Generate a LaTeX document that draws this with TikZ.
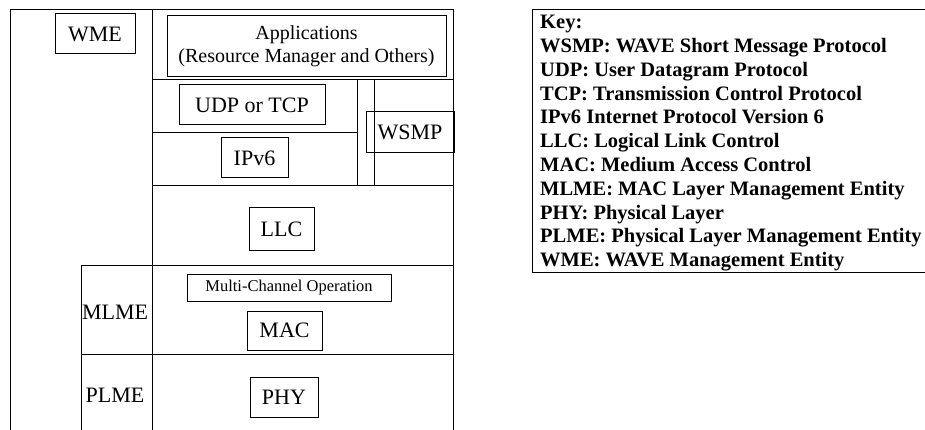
\documentclass[tikz,border=0pt]{standalone}
\usepackage{fontspec}
\setmainfont{Liberation Serif}
\begin{document}
\begin{tikzpicture}[x=1pt,y=-1pt,
  frame/.style={line width=1pt},
  layer/.style={draw,line width=1pt,inner sep=0pt,minimum width=#1},
  lbl/.style={font=\fontsize{22}{24}\selectfont},
  applbl/.style={font=\fontsize{20}{23}\selectfont},
  small/.style={font=\fontsize{16.5}{18}\selectfont},
  keytext/.style={font=\fontsize{20.5}{23.8}\selectfont\bfseries,align=left,inner sep=0pt,anchor=north west}]
\useasboundingbox (0,0) rectangle (925,430);

% stack frame
\coordinate (tl) at (10,10);
\coordinate (tr) at (453,10);
\draw[frame] (10,430) -- (tl) -- (tr) -- (453,430);
\draw[frame] (152,10) -- (152,430);
\draw[frame] (152,80) -- (453,80);
\draw[frame] (152,133) -- (357,133);
\draw[frame] (357,80) -- (357,186);
\draw[frame] (374,80) -- (374,186);
\draw[frame] (152,186) -- (453,186);
\draw[frame] (81,430) -- (81,265) -- (453,265);
\draw[frame] (81,354) -- (453,354);

% protocol blocks
\node[layer=80pt,minimum height=40pt,lbl] (wme) at (95,34) {WME};
\node[layer=279pt,minimum height=61pt,applbl,align=center] (apps) at (306.5,46.5)
  {Applications\\(Resource Manager and Others)};
\node[layer=146pt,minimum height=40pt,lbl] (udp) at (252,105) {UDP or TCP};
\node[layer=88pt,minimum height=41pt,lbl] (wsmp) at (410,132.5) {WSMP};
\node[layer=67pt,minimum height=40pt,lbl] (ipv6) at (254.5,158) {IPv6};
\node[layer=65pt,minimum height=42pt,lbl] (llc) at (281.5,229) {LLC};
\node[layer=204pt,minimum height=27pt,small] (mco) at (289,287.5) {Multi-Channel Operation};
\node[layer=75pt,minimum height=39pt,lbl] (mac) at (284.5,330.5) {MAC};
\node[layer=68pt,minimum height=40pt,lbl] (phy) at (284,397) {PHY};
\node[lbl,inner sep=0pt] (mlme) at (115,312) {MLME};
\node[lbl,inner sep=0pt] (plme) at (115,395) {PLME};

% key
\draw[frame] (930,10) -- (532,10) -- (532,272) -- (930,272);
\node[keytext] (key) at (540,15) {Key:\\
WSMP: WAVE Short Message Protocol\\
UDP: User Datagram Protocol\\
TCP: Transmission Control Protocol\\
IPv6 Internet Protocol Version 6\\
LLC: Logical Link Control\\
MAC: Medium Access Control\\
MLME: MAC Layer Management Entity\\
PHY: Physical Layer\\
PLME: Physical Layer Management Entity\\
WME: WAVE Management Entity};
\end{tikzpicture}
\end{document}
